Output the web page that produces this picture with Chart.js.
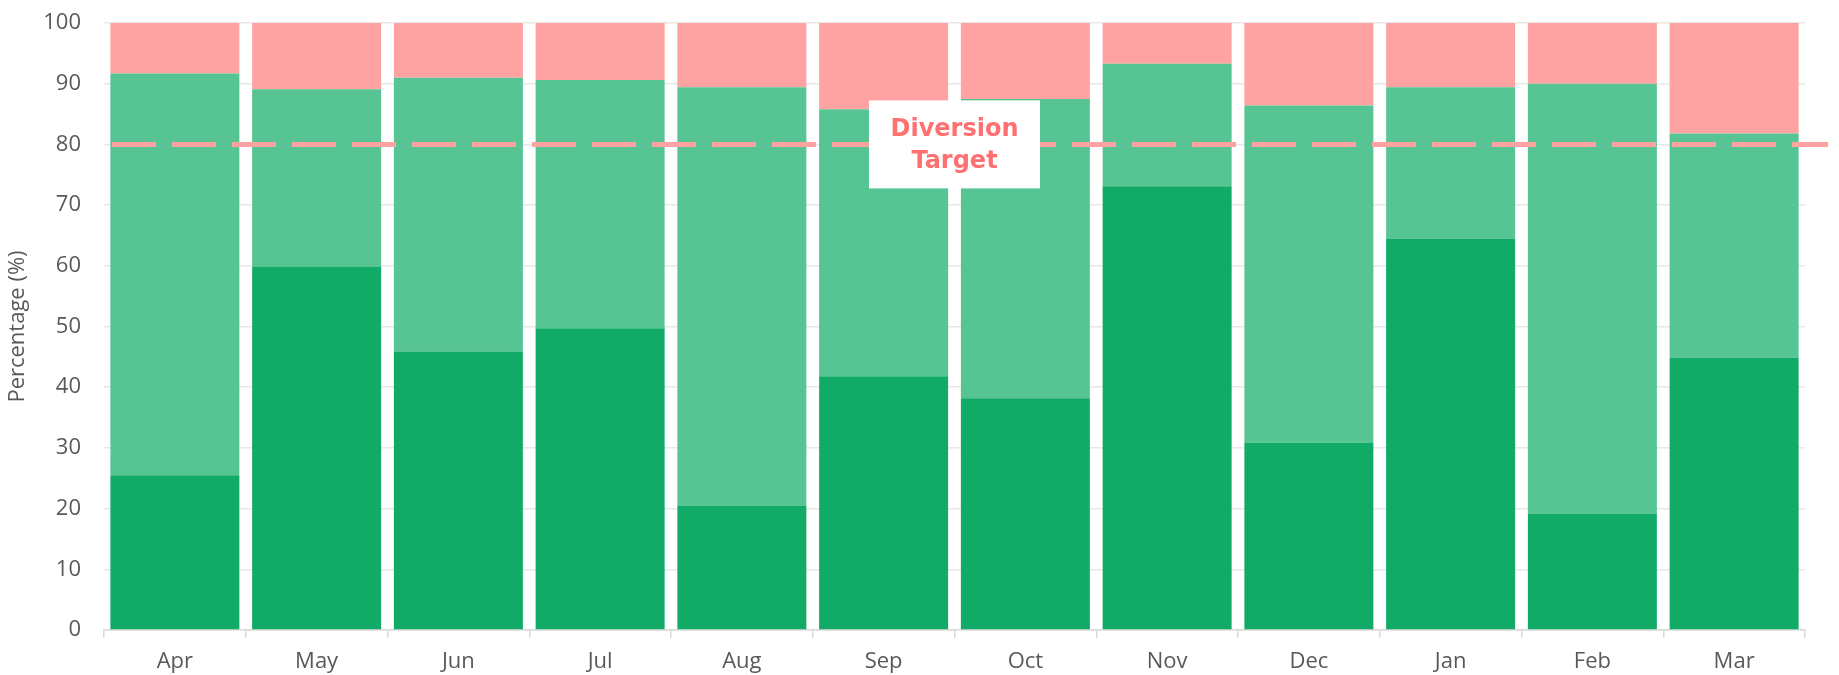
<!DOCTYPE html>
<html>
<head>
<meta charset="utf-8">
<script src="https://cdn.jsdelivr.net/npm/chart.js@4"></script>
<style>
  html, body { margin: 0; padding: 0; background: #fff; }
  #wrap { width: 1839px; height: 675px; }
</style>
</head>
<body>
<div id="wrap"><canvas id="chart"></canvas></div>
<script>
const months = ['Apr', 'May', 'Jun', 'Jul', 'Aug', 'Sep', 'Oct', 'Nov', 'Dec', 'Jan', 'Feb', 'Mar'];
// bottom part of each bar (dark green)
const darkGreen = [25.5, 59.9, 45.9, 49.7, 20.5, 41.8, 38.2, 73.1, 30.9, 64.5, 19.2, 44.9];
// top of the green stack
const greenTotal = [91.7, 89.1, 91.0, 90.6, 89.4, 85.8, 87.5, 93.3, 86.4, 89.4, 90.0, 81.8];
const lightGreen = greenTotal.map((t, i) => +(t - darkGreen[i]).toFixed(1));
const rest = greenTotal.map(t => +(100 - t).toFixed(1));
const yTicks = [0, 10, 20, 30, 40, 50, 60, 70, 80, 90, 100];
const target = 80;
const targetLabel = ['Diversion', 'Target'];

const tickFont = { family: 'Open Sans', size: 22 };

// dashed target line + label box
const targetPlugin = {
    id: 'target',
    afterDatasetsDraw(chart) {
        const { ctx, chartArea, scales } = chart;
        const y = scales.y.getPixelForValue(target);

        ctx.save();
        ctx.strokeStyle = '#ffa2a2';
        ctx.lineWidth = 5;
        ctx.setLineDash([44, 16]);
        ctx.beginPath();
        ctx.moveTo(chartArea.left + 8, y);
        ctx.lineTo(chartArea.right + 23, y);
        ctx.stroke();
        ctx.setLineDash([]);

        // box sits between Sep and Oct
        const x = (scales.x.getPixelForValue(5) + scales.x.getPixelForValue(6)) / 2;
        const w = 171, h = 88;
        ctx.fillStyle = '#ffffff';
        ctx.fillRect(x - w / 2, y - h / 2, w, h);

        ctx.fillStyle = '#ff7171';
        ctx.font = 'bold 24px "DejaVu Sans"';
        ctx.textAlign = 'center';
        ctx.textBaseline = 'middle';
        ctx.fillText(targetLabel[0], x, y - 15);
        ctx.fillText(targetLabel[1], x, y + 17);
        ctx.restore();
    }
};

const data = {
    labels: months,
    datasets: [
        { label: 'dark', data: darkGreen, backgroundColor: '#12aa67' },
        { label: 'light', data: lightGreen, backgroundColor: '#57c593' },
        { label: 'rest', data: rest, backgroundColor: '#ffa2a2' }
    ]
};

const config = {
    type: 'bar',
    data: data,
    options: {
        responsive: true,
        maintainAspectRatio: false,
        animation: false,
        datasets: {
            bar: { categoryPercentage: 1, barPercentage: 0.91, borderWidth: 0 }
        },
        layout: { padding: { top: 23, right: 34, bottom: 0, left: 0 } },
        plugins: {
            legend: { display: false },
            tooltip: { enabled: false }
        },
        scales: {
            x: {
                stacked: true,
                afterFit: (scale) => { scale.height = 45; },
                grid: {
                    offset: true,
                    drawOnChartArea: false,
                    tickLength: 8,
                    color: '#d9d9d9',
                    lineWidth: 1.5
                },
                border: { color: '#d9d9d9', width: 1.5 },
                ticks: { color: '#595959', font: tickFont, padding: 11 }
            },
            y: {
                stacked: true,
                min: 0,
                max: 100,
                afterBuildTicks: (scale) => { scale.ticks = yTicks.map(v => ({ value: v })); },
                afterFit: (scale) => { scale.width = 104; scale.paddingTop = 0; scale.paddingBottom = 0; },
                grid: { color: '#e8e8e8', lineWidth: 1.5, drawTicks: false },
                border: { display: false },
                ticks: { color: '#595959', font: tickFont, padding: 23 },
                title: {
                    display: true,
                    text: 'Percentage (%)',
                    color: '#595959',
                    font: tickFont,
                    padding: { top: 5, bottom: 0 }
                }
            }
        }
    },
    plugins: [targetPlugin]
};

window.myChart = new Chart(document.getElementById('chart'), config);
</script>
</body>
</html>
